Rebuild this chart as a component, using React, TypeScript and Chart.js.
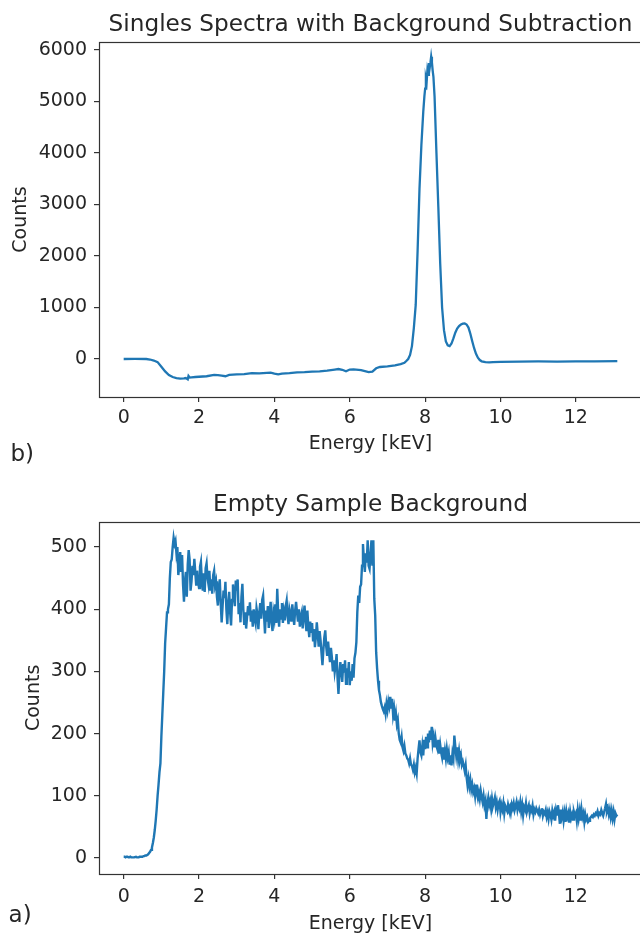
import React, { useEffect, useRef } from "react";
import { Chart, registerables } from "chart.js";

Chart.register(...registerables);

// ---------------- data ----------------
// Panel b) Singles spectra with background subtraction (energy in keV, counts)
const singlesEnergyKeV = [
  0, 0.3, 0.6, 0.7, 0.8, 0.9, 1.0, 1.1, 1.2, 1.3, 1.4, 1.5, 1.6, 1.65, 1.7, 1.72, 1.75, 1.8, 1.9,
  2.0, 2.2, 2.4, 2.5, 2.6, 2.7, 2.8, 3.0, 3.2, 3.4, 3.6, 3.8, 3.9, 4.0, 4.1, 4.2, 4.4, 4.6, 4.8,
  5.0, 5.2, 5.4, 5.6, 5.7, 5.8, 5.9, 6.0, 6.1, 6.3, 6.5, 6.6, 6.7, 6.8, 7.0, 7.2, 7.35, 7.45,
  7.5, 7.55, 7.6, 7.65, 7.7, 7.75, 7.8, 7.85, 7.9, 7.95, 7.98, 8.0, 8.02, 8.04, 8.06, 8.08, 8.1,
  8.12, 8.14, 8.16, 8.18, 8.2, 8.22, 8.25, 8.3, 8.35, 8.4, 8.45, 8.5, 8.55, 8.6, 8.65, 8.7, 8.75,
  8.8, 8.85, 8.9, 8.95, 9.0, 9.05, 9.1, 9.15, 9.2, 9.25, 9.3, 9.35, 9.4, 9.45, 9.5, 9.6, 9.7,
  9.8, 10.0, 10.5, 11.0, 11.5, 12.0, 12.5, 13.1,
];
const singlesCounts = [
  0, 2, 0, -10, -30, -60, -150, -240, -310, -350, -370, -380, -378, -370, -395, -330, -360, -355, -350,
  -345, -335, -310, -315, -325, -335, -310, -300, -295, -275, -280, -270, -265, -285, -300, -285, -275, -260, -255,
  -245, -240, -225, -205, -195, -210, -240, -205, -200, -215, -255, -245, -180, -155, -145, -125, -100, -75,
  -40, 0, 80, 250, 600, 1050, 2100, 3300, 4150, 4800, 5100, 5250, 5450, 5380, 5600, 5520, 5750,
  5650, 5750, 5870, 5760, 5600, 5480, 5100, 4000, 2950, 1850, 1000, 560, 340, 265, 250, 300, 400,
  510, 590, 640, 670, 685, 690, 670, 610, 490, 345, 210, 100, 25, -20, -45, -60, -65,
  -60, -55, -50, -48, -50, -47, -45, -40,
];

// Panel a) Empty sample background, one value per 0.025 keV channel starting at 0 keV
const BG_START_KEV = 0;
const BG_STEP_KEV = 0.025;
const backgroundCounts = [
  // 0 - 1 keV
  2, 2, 1, 2, 2, 1, 1, 2, 1, 1, 1, 1, 1, 2, 1, 1, 1, 2, 2, 2,
  2, 3, 3, 4, 4, 5, 6, 8, 10, 13, 17, 24, 33, 45, 60, 78, 100, 118, 138, 152,
  // 1 - 2 keV
  195, 230, 265, 300, 345, 370, 395, 400, 408, 450, 476, 480, 500, 515, 505, 510, 490, 500, 455, 470,
  492, 460, 487, 440, 412, 445, 460, 420, 472, 495, 480, 430, 445, 470, 455, 481, 460, 438, 462, 445,
  // 2 - 3 keV
  434, 468, 476, 445, 430, 458, 428, 466, 474, 450, 440, 462, 430, 448, 425, 455, 462, 438, 445, 420,
  406, 432, 448, 410, 379, 405, 430, 418, 444, 400, 376, 410, 428, 395, 374, 415, 440, 420, 405, 446,
  // 3 - 4 keV
  430, 448, 392, 410, 379, 420, 441, 400, 375, 395, 369, 388, 405, 390, 411, 380, 398, 372, 400, 385,
  377, 402, 392, 368, 395, 410, 385, 415, 422, 390, 361, 398, 380, 405, 370, 392, 412, 378, 365, 395,
  // 4 - 5 keV
  385, 408, 378, 433, 395, 372, 400, 385, 410, 378, 395, 382, 405, 414, 388, 376, 400, 392, 380, 408,
  390, 375, 398, 412, 395, 380, 400, 372, 388, 395, 369, 392, 406, 380, 365, 398, 372, 355, 380, 362,
  // 5 - 6 keV
  378, 350, 368, 339, 355, 379, 360, 340, 365, 350, 330, 310, 335, 355, 366, 340, 325, 348, 330, 315,
  338, 323, 300, 318, 299, 310, 328, 290, 264, 295, 315, 300, 283, 312, 298, 318, 280, 305, 290, 315,
  // 6 - 7 keV
  278, 300, 285, 312, 290, 321, 330, 347, 395, 422, 410, 436, 440, 470, 505, 480, 460, 490, 475, 511,
  470, 465, 490, 511, 470, 511, 417, 390, 331, 305, 285, 270, 262, 251, 245, 240, 236, 242, 232, 248,
  // 7 - 8 keV
  238, 252, 244, 259, 240, 256, 230, 240, 221, 232, 215, 222, 200, 190, 186, 195, 178, 172, 180, 168,
  165, 160, 158, 152, 160, 150, 148, 142, 150, 138, 145, 136, 160, 175, 189, 170, 165, 180, 165, 190,
  // 8 - 9 keV
  175, 195, 178, 200, 186, 205, 190, 211, 185, 195, 178, 192, 180, 175, 190, 168, 182, 170, 162, 178,
  158, 172, 160, 175, 162, 170, 150, 165, 149, 168, 160, 197, 180, 165, 178, 160, 172, 158, 165, 150,
  // 9 - 10 keV
  155, 148, 140, 149, 130, 117, 128, 115, 125, 110, 118, 106, 112, 100, 118, 104, 96, 105, 95, 108,
  98, 90, 100, 85, 92, 63, 88, 97, 85, 92, 80, 95, 84, 90, 97, 82, 90, 78, 88, 92,
  // 10 - 11 keV
  74, 85, 78, 88, 72, 84, 80, 76, 86, 79, 83, 74, 86, 80, 88, 77, 83, 90, 78, 86,
  80, 90, 75, 85, 69, 82, 78, 88, 74, 80, 85, 72, 80, 76, 84, 70, 78, 74, 80, 76,
  // 11 - 12 keV
  72, 78, 70, 76, 80, 68, 74, 71, 77, 66, 73, 63, 75, 70, 62, 76, 68, 74, 60, 77,
  70, 85, 72, 55, 78, 66, 74, 60, 72, 58, 75, 66, 72, 57, 74, 64, 70, 62, 74, 68,
  // 12 - 13 keV
  72, 60, 77, 64, 75, 60, 78, 66, 72, 58, 70, 62, 66, 58, 60, 64, 66, 68, 66, 70,
  68, 72, 70, 75, 68, 72, 70, 77, 72, 68, 74, 80, 87, 75, 80, 70, 78, 66, 76, 64,
  // 13 - 13.1 keV
  74, 62, 72, 68, 70,
];

// tick values
const energyTicks = [0, 2, 4, 6, 8, 10, 12];
const singlesCountTicks = [0, 1000, 2000, 3000, 4000, 5000, 6000];
const backgroundCountTicks = [0, 100, 200, 300, 400, 500];

// texts
const singlesTitle = "Singles Spectra with Background Subtraction";
const backgroundTitle = "Empty Sample Background";
const xLabel = "Energy [kEV]";
const yLabel = "Counts";

// ---------------- styling ----------------
const FONT = '"DejaVu Sans", sans-serif';
const TEXT = "#262626";
const AXIS = "#333333";
const LINE = "#1f77b4";

const spinesPlugin = {
  id: "spines",
  afterDraw(chart: any) {
    const { ctx, chartArea: a } = chart;
    ctx.save();
    ctx.strokeStyle = AXIS;
    ctx.lineWidth = 1.2;
    ctx.strokeRect(
      Math.round(a.left) + 0.5,
      Math.round(a.top) + 0.5,
      Math.round(a.right - a.left),
      Math.round(a.bottom - a.top)
    );
    ctx.restore();
  },
};

function panelLabelPlugin(text: string, x: number, y: number) {
  return {
    id: "panelLabel",
    afterDraw(chart: any) {
      const ctx = chart.ctx;
      ctx.save();
      ctx.font = `23px ${FONT}`;
      ctx.fillStyle = TEXT;
      ctx.textAlign = "left";
      ctx.textBaseline = "alphabetic";
      ctx.fillText(text, x, y);
      ctx.restore();
    },
  };
}

type PanelSpec = {
  points: { x: number; y: number }[];
  title: string;
  yMin: number;
  yMax: number;
  yTicks: number[];
  canvasH: number;
  titlePad: { top: number; bottom: number };
  xAxisH: number;
  xTickPad: number;
  xTitlePadBottom: number;
  yTitlePadTop: number;
  label: string;
  labelX: number;
  labelY: number;
  lineWidth: number;
};

const CANVAS_W = 660;
const AXES_LEFT = 99;

function buildConfig(p: PanelSpec): any {
  return {
    type: "line",
    data: {
      datasets: [
        {
          data: p.points,
          borderColor: LINE,
          borderWidth: p.lineWidth,
          pointRadius: 0,
          tension: 0,
          fill: false,
        },
      ],
    },
    options: {
      responsive: false,
      animation: false,
      devicePixelRatio: 1,
      layout: { padding: { left: 0, right: 18, top: 0, bottom: 0 } },
      plugins: {
        legend: { display: false },
        tooltip: { enabled: false },
        title: {
          display: true,
          text: p.title,
          fullSize: false,
          color: TEXT,
          font: { family: FONT, size: 23.2, weight: "normal" },
          padding: p.titlePad,
        },
      },
      scales: {
        x: {
          type: "linear",
          min: -0.655,
          max: 13.755,
          afterBuildTicks: (s: any) => {
            s.ticks = energyTicks.map((v) => ({ value: v }));
          },
          afterFit: (s: any) => {
            s.height = p.xAxisH;
          },
          ticks: {
            color: TEXT,
            font: { family: FONT, size: 19 },
            padding: p.xTickPad,
            maxRotation: 0,
            autoSkip: false,
            callback: (v: number) => String(v),
          },
          grid: { drawOnChartArea: false, drawTicks: true, tickLength: 5, color: AXIS, lineWidth: 1.2 },
          border: { display: false },
          title: {
            display: true,
            text: xLabel,
            color: TEXT,
            font: { family: FONT, size: 19 },
            padding: { top: 0, bottom: p.xTitlePadBottom },
          },
        },
        y: {
          type: "linear",
          min: p.yMin,
          max: p.yMax,
          afterBuildTicks: (s: any) => {
            s.ticks = p.yTicks.map((v) => ({ value: v }));
          },
          afterFit: (s: any) => {
            s.width = AXES_LEFT;
          },
          ticks: {
            color: TEXT,
            font: { family: FONT, size: 19 },
            padding: 7,
            autoSkip: false,
            callback: (v: number) => String(v),
          },
          grid: { drawOnChartArea: false, drawTicks: true, tickLength: 5, color: AXIS, lineWidth: 1.2 },
          border: { display: false },
          title: {
            display: true,
            text: yLabel,
            color: TEXT,
            font: { family: FONT, size: 19 },
            padding: { top: p.yTitlePadTop, bottom: 0 },
          },
        },
      },
    },
    plugins: [spinesPlugin, panelLabelPlugin(p.label, p.labelX, p.labelY)],
  };
}

function Panel({ spec, top }: { spec: PanelSpec; top: number }) {
  const ref = useRef<HTMLCanvasElement | null>(null);
  useEffect(() => {
    if (!ref.current) return;
    const chart = new Chart(ref.current, buildConfig(spec));
    return () => chart.destroy();
  }, [spec]);
  return (
    <canvas
      ref={ref}
      width={CANVAS_W}
      height={spec.canvasH}
      style={{
        position: "absolute",
        left: 0,
        top,
        width: CANVAS_W,
        height: spec.canvasH,
        display: "block",
      }}
    />
  );
}

const singlesPoints = singlesEnergyKeV.map((e, i) => ({ x: e, y: singlesCounts[i] }));
const backgroundPoints = backgroundCounts.map((c, i) => ({
  x: Number((BG_START_KEV + i * BG_STEP_KEV).toFixed(3)),
  y: c,
}));

const topSpec: PanelSpec = {
  points: singlesPoints,
  title: singlesTitle,
  yMin: -738,
  yMax: 6155,
  yTicks: singlesCountTicks,
  canvasH: 470,
  titlePad: { top: 10.9, bottom: 3.3 },
  xAxisH: 73,
  xTickPad: 5,
  xTitlePadBottom: 14.2,
  yTitlePadTop: 9.7,
  label: "b)",
  labelX: 10.5,
  labelY: 461,
  lineWidth: 2.3,
};

const bottomSpec: PanelSpec = {
  points: backgroundPoints,
  title: backgroundTitle,
  yMin: -25.75,
  yMax: 540.75,
  yTicks: backgroundCountTicks,
  canvasH: 490,
  titlePad: { top: 20.9, bottom: 3.0 },
  xAxisH: 86,
  xTickPad: 7,
  xTitlePadBottom: 24.2,
  yTitlePadTop: 22.3,
  label: "a)",
  labelX: 8.6,
  labelY: 452,
  lineWidth: 2.4,
};

export default function App() {
  return (
    <div
      style={{
        position: "absolute",
        left: 0,
        top: 0,
        width: 640,
        height: 933,
        overflow: "hidden",
        background: "#ffffff",
      }}
    >
      <Panel spec={topSpec} top={0} />
      <Panel spec={bottomSpec} top={470} />
    </div>
  );
}
